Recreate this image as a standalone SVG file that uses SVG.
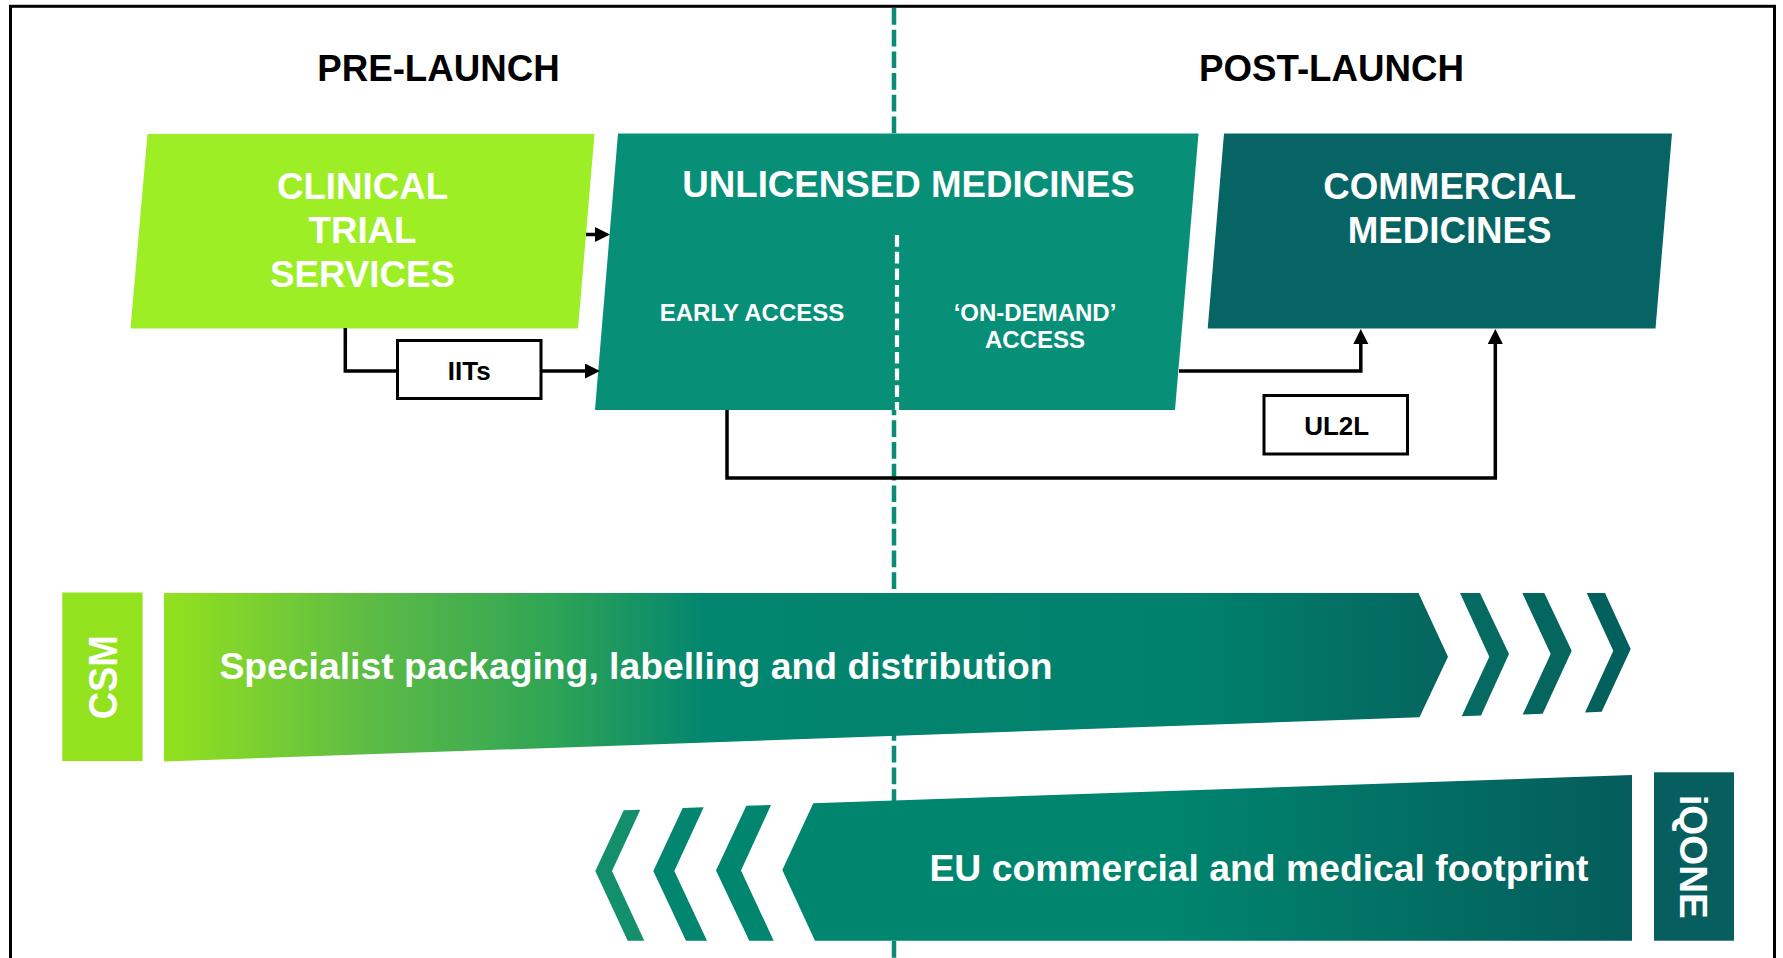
<svg xmlns="http://www.w3.org/2000/svg" width="1783" height="958" viewBox="0 0 1783 958">
  <style>
    .t { font-family: "Liberation Sans", Arial, sans-serif; font-weight: bold; }
    .head { font-size: 36.7px; fill: #000; text-anchor: middle; }
    .big { font-size: 36.7px; fill: #fff; text-anchor: middle; }
    .sub { font-size: 24px; fill: #fff; text-anchor: middle; }
    .lbl { font-size: 26px; fill: #000; text-anchor: middle; }
    .bar { font-size: 37.3px; fill: #fff; text-anchor: middle; }
    .link { fill: none; stroke: #000; stroke-width: 3.5; stroke-linejoin: miter; }
    .box { fill: #fff; stroke: #000; stroke-width: 3; }
  </style>
  <defs>
    <marker id="arrow" markerUnits="userSpaceOnUse" markerWidth="16" markerHeight="16" refX="7" refY="7.5" orient="auto">
      <path d="M0,0 L15,7.5 L0,15 z" fill="#000"/>
    </marker>
    <linearGradient id="gradSpec" gradientUnits="userSpaceOnUse" x1="164" y1="0" x2="1448" y2="0">
      <stop offset="0" stop-color="#93E21E"/>
      <stop offset="0.16" stop-color="#5DBB45"/>
      <stop offset="0.30" stop-color="#30A555"/>
      <stop offset="0.42" stop-color="#03866F"/>
      <stop offset="0.80" stop-color="#00816E"/>
      <stop offset="1" stop-color="#05655E"/>
    </linearGradient>
    <linearGradient id="gradEU" gradientUnits="userSpaceOnUse" x1="782" y1="0" x2="1632" y2="0">
      <stop offset="0" stop-color="#00856F"/>
      <stop offset="0.45" stop-color="#00856F"/>
      <stop offset="1" stop-color="#045C5B"/>
    </linearGradient>
  </defs>

  <rect width="1783" height="958" fill="#fff"/>

  <!-- frame, open at the bottom -->
  <rect x="10.5" y="6.3" width="1764" height="1000" fill="none" stroke="#000" stroke-width="3"/>

  <!-- pre/post launch divider -->
  <line x1="894" y1="8" x2="894" y2="958" stroke="#0A8B74" stroke-width="4.5" stroke-dasharray="16.7 5"/>

  <g id="label-prelaunch">
    <text class="t head" x="438.5" y="81">PRE-LAUNCH</text>
  </g>
  <g id="label-postlaunch">
    <text class="t head" x="1331.5" y="81">POST-LAUNCH</text>
  </g>

  <g id="node-clinical-trial">
    <polygon points="147.5,134 594.5,134 578,328.5 130.5,328.5" fill="#9DEE24"/>
    <text class="t big" x="362.5" y="198.5">CLINICAL</text>
    <text class="t big" x="362.5" y="242.5">TRIAL</text>
    <text class="t big" x="362.5" y="286.5">SERVICES</text>
  </g>

  <g id="node-unlicensed">
    <polygon points="618,133.5 1198.5,133.5 1175,410 595,410" fill="#078F78"/>
    <line x1="897" y1="235" x2="897" y2="410" stroke="#fff" stroke-width="4.2" stroke-dasharray="11.7 5"/>
    <text class="t big" x="908.5" y="196.7">UNLICENSED MEDICINES</text>
    <text class="t sub" x="752" y="320.5">EARLY ACCESS</text>
    <text class="t sub" x="1035" y="320.5">‘ON-DEMAND’</text>
    <text class="t sub" x="1035" y="348">ACCESS</text>
  </g>

  <g id="node-commercial">
    <polygon points="1224,133.5 1672,133.5 1655.5,328.5 1207.7,328.5" fill="#076464"/>
    <text class="t big" x="1449.6" y="198.5">COMMERCIAL</text>
    <text class="t big" x="1449.6" y="243">MEDICINES</text>
  </g>

  <g id="connectors">
    <path class="link" d="M586,234.5 H602" marker-end="url(#arrow)"/>
    <path class="link" d="M345.3,328 V371 H397"/>
    <path class="link" d="M541,371 H592" marker-end="url(#arrow)"/>
    <path class="link" d="M1179,371 H1360.8 V337" marker-end="url(#arrow)"/>
    <path class="link" d="M727,410 V478 H1495.3 V337" marker-end="url(#arrow)"/>
  </g>

  <g id="node-iits">
    <rect class="box" x="397.5" y="340.5" width="143.5" height="58"/>
    <text class="t lbl" x="469.2" y="380">IITs</text>
  </g>

  <g id="node-ul2l">
    <rect class="box" x="1264" y="395.5" width="143.5" height="58.5"/>
    <text class="t lbl" x="1336.7" y="435.3">UL2L</text>
  </g>

  <g id="node-csm">
    <rect x="62.3" y="592.5" width="80.3" height="168.5" fill="#93E21E"/>
    <text class="t" font-size="40" fill="#fff" text-anchor="middle" textLength="84" lengthAdjust="spacingAndGlyphs" transform="translate(117,677.3) rotate(-90)">CSM</text>
  </g>

  <g id="node-specialist">
    <polygon points="164,593 1418.5,593 1448,656.7 1419.5,717.3 164,761.5" fill="url(#gradSpec)"/>
    <polygon points="1460,593 1480,593 1509,654 1481,715.6 1461.7,716.3 1489.3,656.7" fill="#056A61"/>
    <polygon points="1522.3,593 1544.3,593 1571.7,650.7 1542.7,713.8 1522.7,714.5 1550.7,654" fill="#05655F"/>
    <polygon points="1586.7,593 1605,593 1630.7,649 1601.7,711.8 1585,712.5 1613.3,650.7" fill="#04605C"/>
    <text class="t bar" x="636" y="679">Specialist packaging, labelling and distribution</text>
  </g>

  <g id="node-eu">
    <polygon points="623.7,810.3 640.3,809.7 612,871 644.3,940.7 627.7,940.7 595.3,871" fill="#138F6C"/>
    <polygon points="682.7,808 703.7,807.3 674.3,871 707,940.7 686,940.7 653.3,871" fill="#03866F"/>
    <polygon points="746.3,805.7 771,805 741,870.5 773.7,940.7 749.3,940.7 716,870.5" fill="#00856F"/>
    <polygon points="813.3,803.3 1632,775 1632,940.7 815,940.7 782.3,870" fill="url(#gradEU)"/>
    <text class="t bar" x="1259" y="881">EU commercial and medical footprint</text>
  </g>

  <g id="node-iqone">
    <rect x="1654" y="772.3" width="80" height="168.4" fill="#065F5E"/>
    <text class="t" font-size="38.5" fill="#fff" text-anchor="middle" transform="translate(1680,856.7) rotate(90)">iQONE</text>
  </g>
</svg>
